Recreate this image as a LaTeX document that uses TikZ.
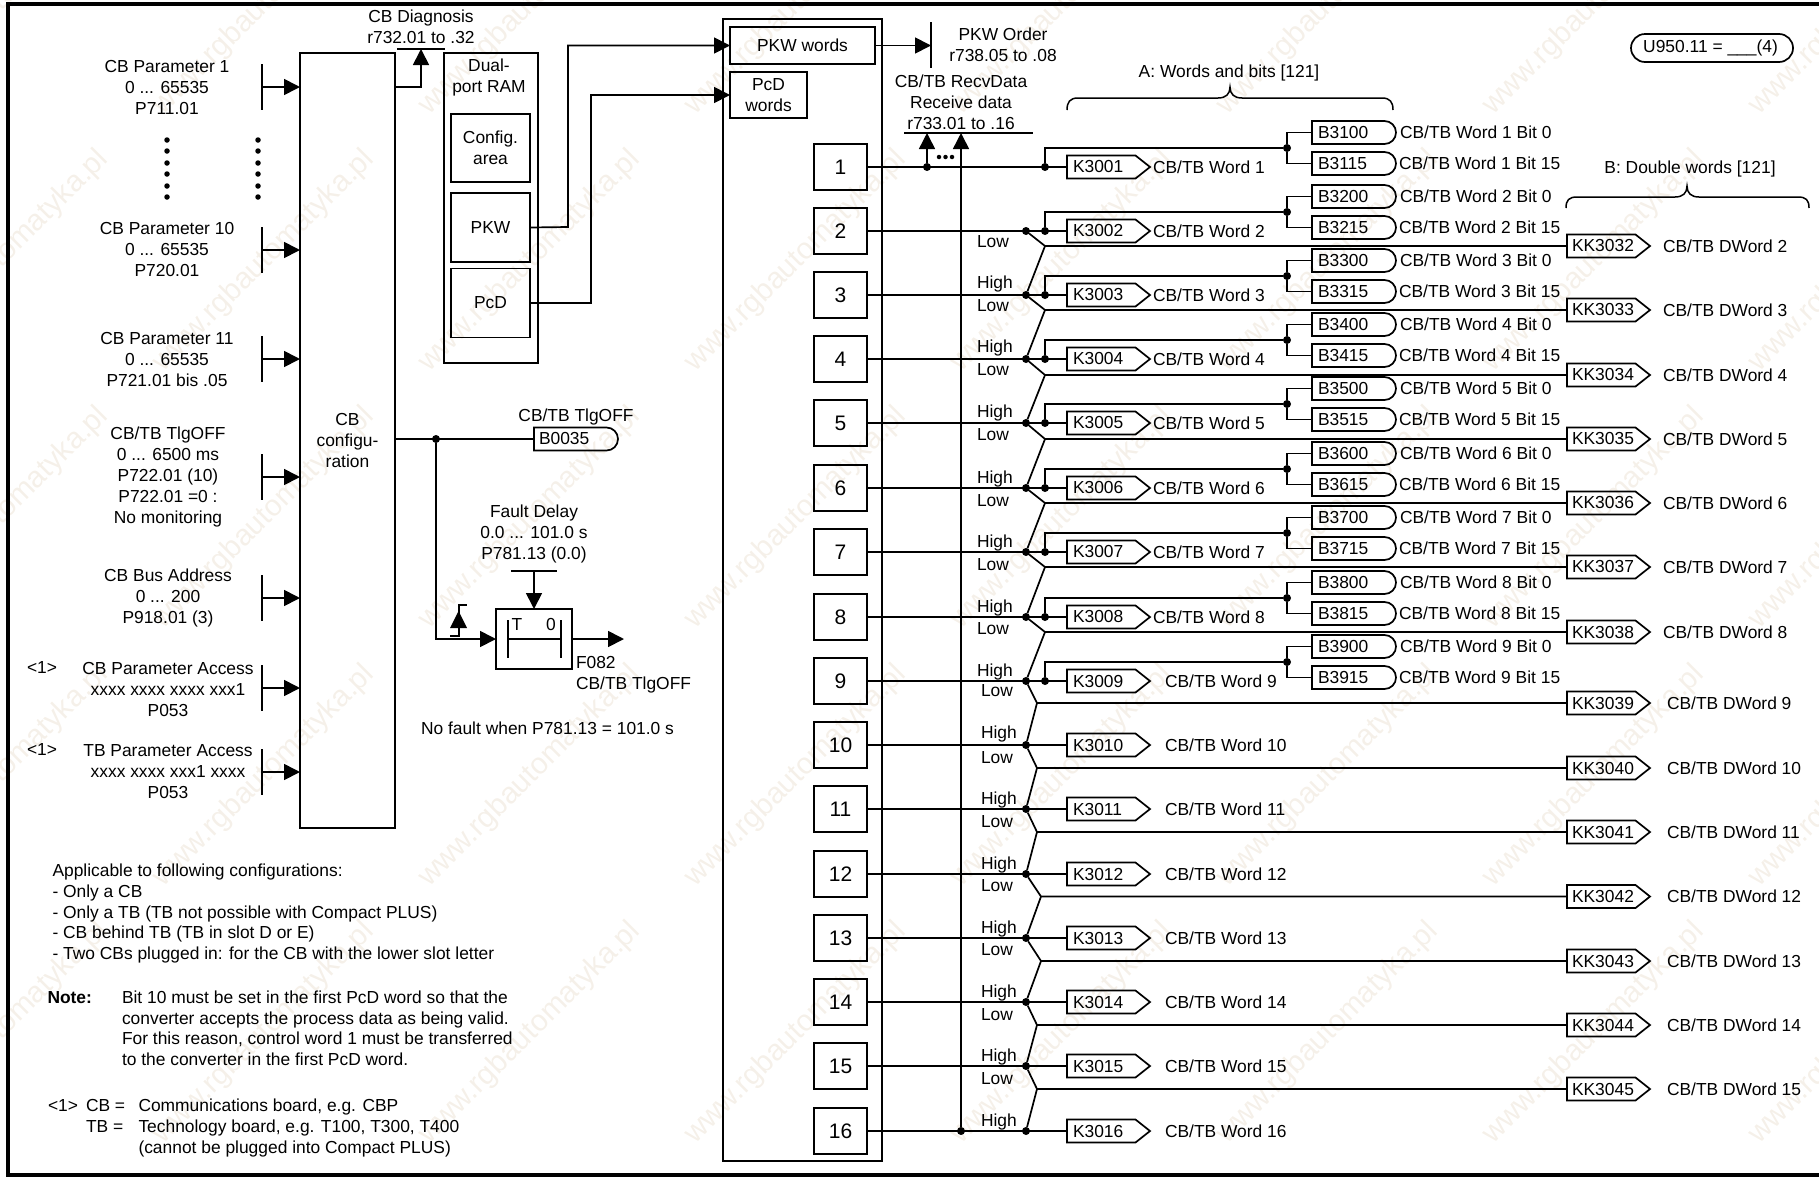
\documentclass[tikz,border=0pt]{standalone}
\usepackage{fontspec}
\setmainfont{Liberation Sans}
\usetikzlibrary{arrows.meta,calc}
\definecolor{wmark}{RGB}{245,240,233}
\newcommand{\lblL}[4]{\node[txt,anchor=base west] (#1) at (#2,#3+6) {#4};}
\newcommand{\lblC}[4]{\node[txt,anchor=base] (#1) at (#2,#3+6) {#4};}
\newcommand{\lblM}[4]{\node[txt,align=center,anchor=center] (#1) at (#2,#3+1) {#4};}
\tikzset{
  x=1pt,y=-1pt,
  ln/.style={line width=1.7pt,line join=miter},
  thin ln/.style={line width=1.3pt},
  arr/.style={ln,-{Triangle[length=16pt,width=16pt]}},
  txt/.style={inner sep=0pt,outer sep=0pt,font=\fontsize{17.4}{21}\selectfont,text=black},
  box/.style={draw,line width=1.7pt,inner sep=0pt,outer sep=0pt,font=\fontsize{17.4}{21}\selectfont,align=center},
  numbox/.style={box,minimum width=53pt,minimum height=46pt,font=\fontsize{21}{24}\selectfont},
  dot/.style={circle,fill=black,inner sep=0pt,minimum size=8pt,outer sep=0pt},
  sdot/.style={circle,fill=black,inner sep=0pt,minimum size=5.5pt,outer sep=0pt},
  pent/.style={inner sep=0pt,outer sep=0pt,minimum height=23pt,text width=#1,align=left,anchor=west,
    font=\fontsize{17.4}{21}\selectfont,text=black,
    append after command={
      \pgfextra{\draw[line width=1.7pt,line join=miter]
        (\tikzlastnode.north west) -- ([xshift=-14.5pt]\tikzlastnode.north east) -- (\tikzlastnode.east)
        -- ([xshift=-14.5pt]\tikzlastnode.south east) -- (\tikzlastnode.south west) -- cycle;}}},
  rnd/.style={inner sep=0pt,outer sep=0pt,minimum height=23pt,text width=84pt,align=left,anchor=west,
    font=\fontsize{17.4}{21}\selectfont,text=black,
    append after command={
      \pgfextra{\draw[line width=1.7pt,line join=miter]
        (\tikzlastnode.north west) -- ([xshift=-11.5pt]\tikzlastnode.north east)
        arc[start angle=90,end angle=-90,radius=11.5pt]
        -- (\tikzlastnode.south west) -- cycle;}}},
}
\begin{document}
\begin{tikzpicture}
\useasboundingbox (0,0) rectangle (1819,1178);
% watermark
\begin{scope}
\clip (0,0) rectangle (1819,1178);
\foreach \wr/\wy in {0/-102,1/155,2/412,3/670,4/927}{
  \foreach \wc in {-1,0,1,2,3,4,5,6,7}{
    \node[rotate=45,anchor=east,inner sep=0pt,text=wmark,font=\fontsize{29.8}{32}\selectfont] (wm\wr w\wc) at (104+266*\wc,\wy) {www.rgbautomatyka.pl};
  }
}
\end{scope}
% frame
\coordinate (fa) at (1819,4); \coordinate (fb) at (8,4); \coordinate (fc) at (8,1175); \coordinate (fd) at (1819,1175);
\draw[line width=3.5pt,line join=miter] (fa) -- (fb) -- (fc) -- (fd);

% CB configuration
\node[box,minimum width=95pt,minimum height=775pt] (cfg) at (347.5,440.5) {CB\\configu-\\ration};

% inputs
\foreach \i/\yy in {a/87,b/250,c/359,d/477,e/598,f/688,g/772}{
  \coordinate (bt\i) at (262,\yy-23);
  \coordinate (bb\i) at (262,\yy+23);
  \coordinate (bm\i) at (262,\yy);
  \draw[thin ln] (bt\i) -- (bb\i);
  \draw[arr] (bm\i) -- (bm\i -| cfg.west);
}
\lblM{ia}{167}{87}{CB Parameter 1\\0 ... 65535\\P711.01}
\lblM{ib}{167}{249}{CB Parameter 10\\0 ... 65535\\P720.01}
\lblM{ic}{167}{359}{CB Parameter 11\\0 ... 65535\\P721.01 bis .05}
\lblM{id}{168}{476}{CB/TB TlgOFF\\0 ... 6500 ms\\P722.01 (10)\\P722.01 =0 :\\No monitoring}
\lblM{ie}{168}{597}{CB Bus Address\\0 ... 200\\P918.01 (3)}
\lblM{if}{168}{688}{CB Parameter Access\\xxxx xxxx xxxx xxx1\\P053}
\lblM{ig}{168}{771}{TB Parameter Access\\xxxx xxxx xxx1 xxxx\\P053}
\lblC{fna}{42}{667}{<1>}
\lblC{fnb}{42}{749}{<1>}

\foreach \k/\yy in {1/140,2/151,3/163,4/174,5/186,6/197}{
  \node[sdot] (dl\k) at (167,\yy) {};
  \node[sdot] (dr\k) at (258,\yy) {};
}

% CB diagnosis
\lblM{diag}{421}{26}{CB Diagnosis\\r732.01 to .32}
\coordinate (dga) at (397,49); \coordinate (dgb) at (445,49); \coordinate (dgt) at (421,49);
\coordinate (dgs) at (395,87);
\draw[thin ln] (dga) -- (dgb);
\draw[arr] (dgs) -| (dgt);

% dual port RAM
\node[box,minimum width=94pt,minimum height=310pt] (dp) at (491,208) {};
\lblM{dpt}{489}{76}{Dual-\\port RAM}
\node[box,minimum width=79pt,minimum height=68pt] (dpc) at (490.5,148) {Config.\\area};
\node[box,minimum width=79pt,minimum height=69pt] (dpk) at (490.5,227.5) {PKW};
\node[box,minimum width=79pt,minimum height=69pt] (dpd) at (490.5,303) {PcD};

% big box
\node[box,minimum width=159pt,minimum height=1142pt] (big) at (802.5,590) {};
\node[box,minimum width=145pt,minimum height=37pt] (pkww) at (802.5,45.5) {PKW words};
\node[box,minimum width=77pt,minimum height=46pt] (pcdw) at (768.5,95) {PcD\\words};
\coordinate (r1) at (568,227); \coordinate (r2) at (591,303);
\draw[arr] (dpk.east) -- (r1) |- (pkww.west);
\draw[arr] (dpd.east) -- (r2) |- (pcdw.west);

% PKW order
\coordinate (poa) at (931,22); \coordinate (pob) at (931,68); \coordinate (pom) at (931,45.5);
\draw[thin ln] (poa) -- (pob);
\draw[arr] (pkww.east) -- (pom);
\lblM{pko}{1003}{44}{PKW Order\\r738.05 to .08}

% receive data
\lblM{rcv}{961}{101}{CB/TB RecvData\\Receive data\\r733.01 to .16}
\coordinate (rva) at (904,133); \coordinate (rvb) at (1033,133);
\coordinate (rv1) at (927,133); \coordinate (rv2) at (961,133);
\draw[thin ln] (rva) -- (rvb);
\foreach \k/\xx in {1/939,2/945.5,3/952}{ \node[circle,fill=black,inner sep=0pt,minimum size=4.5pt] (rd\k) at (\xx,157) {}; }

% rows
\foreach \n/\ry in {1/167,2/231,3/295,4/359,5/423,6/488,7/552,8/617,9/681,10/745,11/809,12/874,13/938,14/1002,15/1066,16/1131}{
  \node[numbox] (n\n) at (840.5,\ry) {\n};
  \pgfmathtruncatemacro{\kid}{3000+\n}
  \node[pent=83pt] (K\n) at (1067,\ry) {\hspace*{6pt}K\kid};
  \draw[ln] (n\n.east) -- (K\n.west);
}
% word labels
\foreach \n/\ry in {1/167,2/231,3/295,4/359,5/423,6/488,7/552,8/617}{
  \lblL{W\n}{1153}{\ry}{CB/TB Word \n}
}
\foreach \n/\ry in {9/681,10/745,11/809,12/874,13/938,14/1002,15/1066,16/1131}{
  \lblL{W\n}{1165}{\ry}{CB/TB Word \n}
}
% bit branches
\foreach \n/\ry in {1/167,2/231,3/295,4/359,5/423,6/488,7/552,8/617,9/681}{
  \node[dot] (H\n) at (1045,\ry) {};
  \node[dot] (T\n) at (1287,\ry-19) {};
  \node[rnd] (Ba\n) at (1312,\ry-34.5) {\hspace*{6pt}B3\n{}00};
  \node[rnd] (Bb\n) at (1312,\ry-3.5) {\hspace*{6pt}B3\n{}15};
  \draw[ln] (H\n) |- (T\n);
  \draw[ln] (T\n) |- (Ba\n.west);
  \draw[ln] (T\n) |- (Bb\n.west);
  \lblL{Bal\n}{1400}{\ry-34.5}{CB/TB Word \n\ Bit 0}
  \lblL{Bbl\n}{1399}{\ry-3.5}{CB/TB Word \n\ Bit 15}
}
% row junctions
\foreach \n/\ry in {2/231,3/295,4/359,5/423,6/488,7/552,8/617,9/681,10/745,11/809,12/874,13/938,14/1002,15/1066,16/1131}{
  \node[dot] (J\n) at (1026,\ry) {};
}
% double word lines
\foreach \n/\ny/\lx/\ly/\nx in {2/231/1045/246/3,3/295/1045/310/4,4/359/1045/375/5,5/423/1045/439/6,6/488/1045/503/7,7/552/1045/567/8,8/617/1045/632/9,9/681/1037/703/10,10/745/1037/768/11,11/809/1037/832/12,12/874/1041/896.5/13,13/938/1041/961/14,14/1002/1037/1025/15,15/1066/1037/1089/16}{
  \pgfmathtruncatemacro{\kk}{3030+\n}
  \node[pent=83pt] (KK\n) at (1567,\ly) {\hspace*{5pt}KK\kk};
  \coordinate (LP\n) at (\lx,\ly);
  \draw[ln,line join=round] (J\n) -- (LP\n) -- (KK\n.west);
  \draw[ln] (LP\n) -- (J\nx);
}
\foreach \n/\ly in {2/246,3/310,4/375,5/439,6/503,7/567,8/632}{
  \lblL{D\n}{1663}{\ly}{CB/TB DWord \n}
}
\foreach \n/\ly in {9/703,10/768,11/832,12/896.5,13/961,14/1025,15/1089}{
  \lblL{D\n}{1667}{\ly}{CB/TB DWord \n}
}
% high/low labels
\foreach \n/\hy/\lyy in {2/0/241,3/282/305,4/346/369,5/411/434,6/477/500,7/541/564,8/606/628}{
  \ifnum\n>2 \lblL{Hi\n}{977}{\hy}{High}\fi
  \lblL{Lo\n}{977}{\lyy}{Low}
}
\lblL{Hi9}{977}{670}{High} \lblL{Lo9}{981}{690}{Low}
\foreach \n/\hy/\lyy in {10/732/757,11/798/821,12/863/885,13/927/949,14/991/1014,15/1055/1078}{
  \lblL{Hi\n}{981}{\hy}{High}
  \lblL{Lo\n}{981}{\lyy}{Low}
}
\lblL{Hi16}{981}{1120}{High}
% receive arrows
\node[dot] (R1) at (927,167) {};
\node[dot] (R16) at (961,1131) {};
\draw[line width=1.5pt,-{Triangle[length=16pt,width=16pt]}] (R1) -- (rv1);
\draw[line width=1.5pt,-{Triangle[length=16pt,width=16pt]}] (R16) -- (rv2);

% braces
\coordinate (ba1) at (1067,110); \coordinate (ba2) at (1393,110); \coordinate (bat) at (1230,87);
\draw[line width=1.5pt] (ba1) .. controls (1067,102) and (1070,98) .. (1078,98) -- (1218,98)
  .. controls (1226,98) and (1230,94) .. (bat) .. controls (1230,94) and (1234,98) .. (1242,98)
  -- (1382,98) .. controls (1390,98) and (1393,102) .. (ba2);
\lblC{bal}{1229}{71}{A: Words and bits [121]}
\coordinate (bb1) at (1566,208); \coordinate (bb2) at (1809,208); \coordinate (bbt) at (1687,186);
\draw[line width=1.5pt] (bb1) .. controls (1566,200) and (1569,197) .. (1577,197) -- (1675,197)
  .. controls (1683,197) and (1687,193) .. (bbt) .. controls (1687,193) and (1691,197) .. (1699,197)
  -- (1798,197) .. controls (1806,197) and (1809,200) .. (bb2);
\lblC{bbl}{1690}{167}{B: Double words [121]}

% U950
\node[draw,line width=1.7pt,rounded corners=14pt,minimum width=162pt,minimum height=28pt,inner sep=0pt,font=\fontsize{17.4}{21}\selectfont] (uu) at (1712,48) {\hspace*{-3pt}U950.11 = \_\_\_(4)};

% TlgOFF
\node[dot] (J0) at (436,439) {};
\node[rnd] (B35) at (534,439) {\hspace*{5pt}B0035};
\lblC{B35l}{576}{415}{CB/TB TlgOFF}
\coordinate (cfgo) at (395,439);
\draw[ln] (cfgo) -- (B35.west);

% fault delay
\node[box,minimum width=76pt,minimum height=60pt] (fdb) at (534,639) {};
\coordinate (fdl) at (436,639);
\draw[arr] (J0) -- (fdl) -- (fdb.west);
\coordinate (ia1) at (508,620); \coordinate (ia2) at (508,658); \coordinate (ia3) at (561,620); \coordinate (ia4) at (561,658);
\coordinate (im1) at (508,639); \coordinate (im2) at (561,639);
\draw[thin ln] (ia1) -- (ia2); \draw[thin ln] (ia3) -- (ia4); \draw[thin ln] (im1) -- (im2);
\lblC{fdT}{517}{624}{T} \lblC{fd0}{551}{624}{0}
\coordinate (fta) at (511,571); \coordinate (ftb) at (557,571); \coordinate (ftm) at (534,571);
\draw[thin ln] (fta) -- (ftb);
\draw[arr] (ftm) -- (fdb.north);
\coordinate (fout) at (624,639);
\draw[arr] (fdb.east) -- (fout);
\lblM{fdl1}{534}{533}{Fault Delay\\0.0 ... 101.0 s\\P781.13 (0.0)}
\lblL{f82}{576}{662}{F082}
\lblL{f82b}{576}{683}{CB/TB TlgOFF}
\lblL{nof}{421}{728}{No fault when P781.13 = 101.0 s}
% edge symbol
\coordinate (sa) at (450,636); \coordinate (sb) at (459,636); \coordinate (sc) at (459,605); \coordinate (sd) at (467,605);
\draw[line width=1.3pt] (sa) -- (sb) -- (sc) -- (sd);
\coordinate (sta) at (450,628); \coordinate (stb) at (467,628); \coordinate (stc) at (458.5,611);
\fill (sta) -- (stb) -- (stc) -- cycle;

% notes
\lblL{n1}{52.5}{870}{Applicable to following configurations:}
\lblL{n2}{52.5}{891}{- Only a CB}
\lblL{n3}{52.5}{912}{- Only a TB (TB not possible with Compact PLUS)}
\lblL{n4}{52.5}{932}{- CB behind TB (TB in slot D or E)}
\lblL{n5}{52.5}{953}{- Two CBs plugged in: for the CB with the lower slot letter}
\node[txt,anchor=base west,font=\fontsize{17.4}{21}\selectfont\bfseries] (n6) at (47.5,1003) {Note:};
\lblL{n7}{122}{997}{Bit 10 must be set in the first PcD word so that the}
\lblL{n8}{122}{1018}{converter accepts the process data as being valid.}
\lblL{n9}{122}{1038}{For this reason, control word 1 must be transferred}
\lblL{n10}{122}{1059}{to the converter in the first PcD word.}
\lblL{n11}{48}{1105}{<1>}
\lblL{n12}{86}{1105}{CB =}
\lblL{n13}{138.5}{1105}{Communications board, e.g. CBP}
\lblL{n14}{86}{1126}{TB =}
\lblL{n15}{138.5}{1126}{Technology board, e.g. T100, T300, T400}
\lblL{n16}{138.5}{1147}{(cannot be plugged into Compact PLUS)}
\end{tikzpicture}
\end{document}
